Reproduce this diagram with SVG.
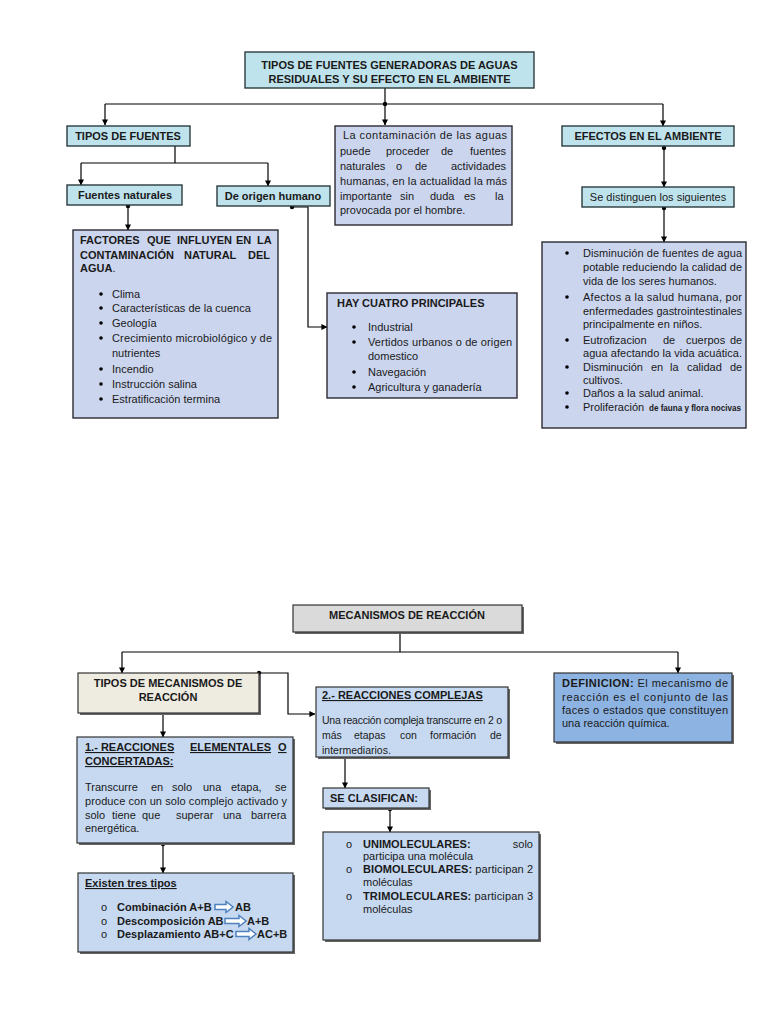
<svg xmlns="http://www.w3.org/2000/svg" width="768" height="1024" viewBox="0 0 768 1024">
<defs>
<marker id="ah" viewBox="0 0 8 8" refX="7.5" refY="4" markerWidth="6" markerHeight="6" orient="auto" markerUnits="userSpaceOnUse"><path d="M0,0 L8,4 L0,8 z" fill="#000"/></marker>
<style>
text{font-family:"Liberation Sans",Arial,sans-serif;font-size:11px;fill:#1a1a1a}
.b{font-weight:bold}
.c{text-anchor:middle}
.u{text-decoration:underline}
.s{font-size:10.5px}
.cy{fill:#bfe3ec;stroke:#2b3b3e;stroke-width:1.4}
.lv{fill:#cbd5ee;stroke:#2b2b33;stroke-width:1.4}
.gr{fill:#dadada;stroke:#333;stroke-width:1.2}
.bg{fill:#eeece1;stroke:#333;stroke-width:1.2}
.lb{fill:#c6d9f1;stroke:#333;stroke-width:1.2}
.db{fill:#8db3e2;stroke:#333;stroke-width:1.2}
.sh{fill:#666}
.ln{fill:none;stroke:#000;stroke-width:1.2}
.ar{fill:none;stroke:#000;stroke-width:1.2;marker-end:url(#ah)}
.bx{fill:#fff;stroke:#4f81bd;stroke-width:1.5}
</style>
</defs>
<rect width="768" height="1024" fill="#fff"/>

<g id="connectors">
<path class="ln" d="M385,88 V104"/>
<path class="ln" d="M105,104 H663"/>
<circle cx="385" cy="104" r="2.2"/>
<path class="ar" d="M105,104 V125"/>
<path class="ar" d="M385,104 V125"/>
<path class="ar" d="M663,104 V126"/>
<path class="ln" d="M175,146 V163 M81,163 H268"/>
<path class="ar" d="M81,163 V185"/>
<path class="ar" d="M268,163 V186"/>
<circle cx="128" cy="206" r="2.2"/>
<path class="ar" d="M128,206 V230"/>
<circle cx="292" cy="207" r="2.2"/>
<path class="ar" d="M292,207 H308 V327 H327"/>
<circle cx="664" cy="148" r="2.2"/>
<path class="ar" d="M664,148 V187"/>
<circle cx="664" cy="208" r="2.2"/>
<path class="ar" d="M664,208 V242"/>

<path class="ln" d="M400,632 V652 M122,652 H678"/>
<path class="ar" d="M122,652 V673"/>
<path class="ar" d="M678,652 V673"/>
<circle cx="259" cy="673" r="2.2"/>
<path class="ar" d="M259,673 H288 V714 H315"/>
<path class="ar" d="M163,713 V737"/>
<circle cx="163" cy="844" r="2.2"/>
<path class="ar" d="M163,844 V873"/>
<path class="ar" d="M345,758 V788"/>
<circle cx="390" cy="809" r="2.2"/>
<path class="ar" d="M390,809 V832"/>
</g>

<g id="title">
<rect class="cy" x="245" y="52" width="289" height="36"/>
<text class="b c" x="389.5" y="69">TIPOS DE FUENTES GENERADORAS DE AGUAS</text>
<text class="b c" x="389.5" y="83">RESIDUALES Y SU EFECTO EN EL AMBIENTE</text>
</g>

<g id="tipos-fuentes">
<rect class="cy" x="67" y="126" width="123" height="20"/>
<text class="b c" x="128" y="140">TIPOS DE FUENTES</text>
</g>

<g id="fuentes-naturales">
<rect class="cy" x="67" y="185" width="115" height="20"/>
<text class="b c" x="125" y="199">Fuentes naturales</text>
</g>

<g id="origen-humano">
<rect class="cy" x="217" y="186" width="113" height="20"/>
<text class="b c" x="273" y="200">De origen humano</text>
</g>

<g id="contaminacion">
<rect class="lv" x="335" y="126" width="177" height="99"/>
<text x="343" y="139" textLength="164" lengthAdjust="spacing">La contaminación de las aguas</text>
<text y="155"><tspan x="340">puede</tspan><tspan x="386">proceder</tspan><tspan x="441">de</tspan><tspan x="470">fuentes</tspan></text>
<text y="170"><tspan x="340">naturales</tspan><tspan x="396">o</tspan><tspan x="415">de</tspan><tspan x="451">actividades</tspan></text>
<text x="340" y="185" textLength="167" lengthAdjust="spacing">humanas, en la actualidad la más</text>
<text y="200"><tspan x="340">importante</tspan><tspan x="400">sin</tspan><tspan x="430">duda</tspan><tspan x="464">es</tspan><tspan x="495">la</tspan></text>
<text x="340" y="214">provocada por el hombre.</text>
</g>

<g id="efectos">
<rect class="cy" x="562" y="126" width="172" height="20"/>
<text class="b c" x="648" y="140">EFECTOS EN EL AMBIENTE</text>
</g>

<g id="distinguen">
<rect class="cy" x="582" y="187" width="152" height="20"/>
<text class="c" x="658" y="201">Se distinguen los siguientes</text>
</g>

<g id="factores">
<rect class="lv" x="73" y="230" width="205" height="188"/>
<text class="b" y="244"><tspan x="80">FACTORES</tspan><tspan x="147">QUE</tspan><tspan x="177">INFLUYEN</tspan><tspan x="236">EN</tspan><tspan x="257">LA</tspan></text>
<text class="b" y="259"><tspan x="80">CONTAMINACIÓN</tspan><tspan x="184">NATURAL</tspan><tspan x="248">DEL</tspan></text>
<text y="272"><tspan x="80" class="b">AGUA</tspan><tspan>.</tspan></text>
<g>
<circle cx="101" cy="294" r="1.8"/><text x="112" y="298">Clima</text>
<circle cx="101" cy="308" r="1.8"/><text x="112" y="312">Características de la cuenca</text>
<circle cx="101" cy="323" r="1.8"/><text x="112" y="327">Geología</text>
<circle cx="101" cy="338" r="1.8"/><text x="112" y="342" textLength="160" lengthAdjust="spacing">Crecimiento microbiológico y de</text>
<text x="112" y="357">nutrientes</text>
<circle cx="101" cy="369" r="1.8"/><text x="112" y="373">Incendio</text>
<circle cx="101" cy="384" r="1.8"/><text x="112" y="388">Instrucción salina</text>
<circle cx="101" cy="399" r="1.8"/><text x="112" y="403">Estratificación termina</text>
</g>
</g>

<g id="cuatro">
<rect class="lv" x="327" y="293" width="190" height="105"/>
<text class="b" x="337" y="307">HAY CUATRO PRINCIPALES</text>
<circle cx="354" cy="327" r="1.8"/><text x="368" y="331">Industrial</text>
<circle cx="354" cy="342" r="1.8"/><text x="368" y="346" textLength="144" lengthAdjust="spacing">Vertidos urbanos o de origen</text>
<text x="368" y="360">domestico</text>
<circle cx="354" cy="372" r="1.8"/><text x="368" y="376">Navegación</text>
<circle cx="354" cy="387" r="1.8"/><text x="368" y="391">Agricultura y ganadería</text>
</g>

<g id="efectos-lista">
<rect class="lv" x="542" y="242" width="204" height="186"/>
<circle cx="567" cy="253" r="1.8"/><text x="583" y="257" textLength="159" lengthAdjust="spacing">Disminución de fuentes de agua</text>
<text x="583" y="271" textLength="159" lengthAdjust="spacing">potable reduciendo la calidad de</text>
<text x="583" y="285">vida de los seres humanos.</text>
<circle cx="567" cy="297" r="1.8"/><text x="583" y="301" textLength="159" lengthAdjust="spacing">Afectos a la salud humana, por</text>
<text x="583" y="315" textLength="159" lengthAdjust="spacing">enfermedades gastrointestinales</text>
<text x="583" y="328">principalmente en niños.</text>
<circle cx="567" cy="340" r="1.8"/><text y="344"><tspan x="583">Eutrofizacion</tspan><tspan x="663">de</tspan><tspan x="686">cuerpos</tspan><tspan x="730">de</tspan></text>
<text x="583" y="357" textLength="159" lengthAdjust="spacing">agua afectando la vida acuática.</text>
<circle cx="567" cy="367" r="1.8"/><text y="371"><tspan x="583">Disminución</tspan><tspan x="651">en</tspan><tspan x="670">la</tspan><tspan x="687">calidad</tspan><tspan x="730">de</tspan></text>
<text x="583" y="384">cultivos.</text>
<circle cx="567" cy="393" r="1.8"/><text x="583" y="397">Daños a la salud animal.</text>
<circle cx="567" cy="407" r="1.8"/><text x="583" y="411">Proliferación</text>
<text class="b" x="649" y="411" style="font-size:9.5px" textLength="92" lengthAdjust="spacingAndGlyphs">de fauna y flora nocivas</text>
</g>

<g id="mecanismos">
<rect class="sh" x="295" y="607" width="229" height="27"/>
<rect class="gr" x="293" y="605" width="229" height="27"/>
<text class="b c" x="407" y="619">MECANISMOS DE REACCIÓN</text>
</g>

<g id="tipos-mecanismos">
<rect class="sh" x="80" y="675" width="181" height="40"/>
<rect class="bg" x="78" y="673" width="181" height="40"/>
<text class="b c" x="168" y="687">TIPOS DE MECANISMOS DE</text>
<text class="b c" x="168" y="701">REACCIÓN</text>
</g>

<g id="complejas">
<rect class="sh" x="318" y="689" width="192" height="70"/>
<rect class="lb" x="316" y="687" width="192" height="70"/>
<text class="b u" x="322" y="699">2.- REACCIONES COMPLEJAS</text>
<text class="s" x="322" y="724" textLength="180" lengthAdjust="spacing">Una reacción compleja transcurre en 2 o</text>
<text class="s" y="739"><tspan x="322">más</tspan><tspan x="354">etapas</tspan><tspan x="400">con</tspan><tspan x="430">formación</tspan><tspan x="490">de</tspan></text>
<text class="s" x="322" y="754">intermediarios.</text>
</g>

<g id="definicion">
<rect class="sh" x="556" y="675" width="178" height="69"/>
<rect class="db" x="554" y="673" width="178" height="69"/>
<text x="562" y="687" textLength="166" lengthAdjust="spacing"><tspan class="b">DEFINICION:</tspan> El mecanismo de</text>
<text x="562" y="701" textLength="166" lengthAdjust="spacing">reacción es el conjunto de las</text>
<text x="562" y="714" textLength="166" lengthAdjust="spacing">faces o estados que constituyen</text>
<text x="562" y="727">una reacción química.</text>
</g>

<g id="elementales">
<rect class="sh" x="79" y="739" width="216" height="106"/>
<rect class="lb" x="77" y="737" width="216" height="106"/>
<text class="b u" y="751"><tspan x="85">1.- REACCIONES</tspan><tspan x="190">ELEMENTALES</tspan><tspan x="278">O</tspan></text>
<text class="b u" x="85" y="765">CONCERTADAS:</text>
<text y="791"><tspan x="85">Transcurre</tspan><tspan x="151">en</tspan><tspan x="172">solo</tspan><tspan x="203">una</tspan><tspan x="231">etapa,</tspan><tspan x="275">se</tspan></text>
<text x="85" y="805" textLength="202" lengthAdjust="spacing">produce con un solo complejo activado y</text>
<text y="819"><tspan x="85">solo</tspan><tspan x="112">tiene</tspan><tspan x="142">que</tspan><tspan x="176">superar</tspan><tspan x="223">una</tspan><tspan x="251">barrera</tspan></text>
<text x="85" y="832">energética.</text>
</g>

<g id="clasifican">
<rect class="sh" x="325" y="790" width="106" height="20"/>
<rect class="lb" x="323" y="788" width="106" height="20"/>
<text class="b" x="330" y="802">SE CLASIFICAN:</text>
</g>

<g id="moleculares">
<rect class="sh" x="325" y="834" width="216" height="108"/>
<rect class="lb" x="323" y="832" width="216" height="108"/>
<text x="346" y="848">o</text><text class="b" x="363" y="848">UNIMOLECULARES:</text><text x="533" y="848" style="text-anchor:end">solo</text>
<text x="363" y="860">participa una molécula</text>
<text x="346" y="873">o</text><text x="363" y="873" textLength="170" lengthAdjust="spacing"><tspan class="b">BIOMOLECULARES:</tspan> participan 2</text>
<text x="363" y="886">moléculas</text>
<text x="346" y="900">o</text><text x="363" y="900" textLength="170" lengthAdjust="spacing"><tspan class="b">TRIMOLECULARES:</tspan> participan 3</text>
<text x="363" y="913">moléculas</text>
</g>

<g id="tres-tipos">
<rect class="sh" x="80" y="875" width="215" height="79"/>
<rect class="lb" x="78" y="873" width="215" height="79"/>
<text class="b u" x="85" y="887">Existen tres tipos</text>
<text x="101" y="911">o</text><text class="b" x="117" y="911">Combinación A+B</text>
<path class="bx" d="M215,904.5 H226 V901.5 L233,907 L226,912.5 V909.5 H215 z"/>
<text class="b" x="235" y="911">AB</text>
<text x="101" y="925">o</text><text class="b" x="117" y="925">Descomposición AB</text>
<path class="bx" d="M225,918.5 H239 V915.5 L246,921 L239,926.5 V923.5 H225 z"/>
<text class="b" x="247" y="925">A+B</text>
<text x="101" y="938">o</text><text class="b" x="117" y="938">Desplazamiento AB+C</text>
<path class="bx" d="M236,931.5 H249 V928.5 L256,934 L249,939.5 V936.5 H236 z"/>
<text class="b" x="257" y="938">AC+B</text>
</g>
</svg>
